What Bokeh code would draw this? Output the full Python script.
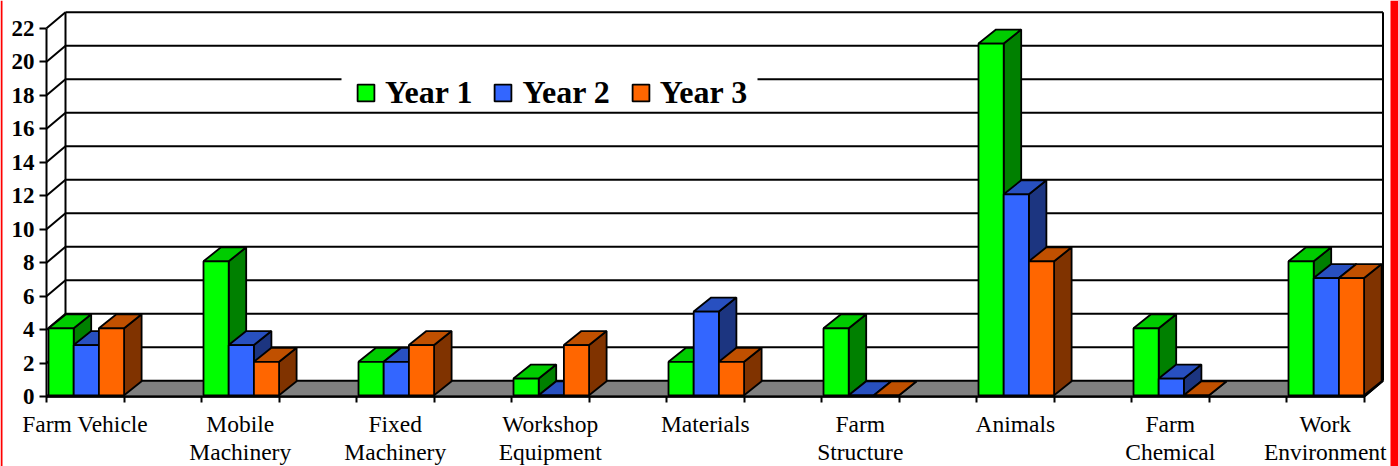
from bokeh.embed import file_html
from bokeh.models import FixedTicker, Legend, LegendItem, LinearAxis, Range1d
from bokeh.plotting import figure
from bokeh.resources import INLINE

categories = [
    ("Farm Vehicle", ""),
    ("Mobile", "Machinery"),
    ("Fixed", "Machinery"),
    ("Workshop", "Equipment"),
    ("Materials", ""),
    ("Farm", "Structure"),
    ("Animals", ""),
    ("Farm", "Chemical"),
    ("Work", "Environment"),
]
year1 = [4, 8, 2, 1, 2, 4, 21, 4, 8]
year2 = [3, 3, 2, 0, 5, 0, 12, 1, 7]
year3 = [4, 2, 3, 3, 2, 0, 8, 0, 7]
y_ticks = list(range(0, 23, 2))

series = [
    ("Year 1", year1, "#00FF00", "#00CC00", "#008000"),
    ("Year 2", year2, "#3366FF", "#2850C0", "#1C3580"),
    ("Year 3", year3, "#FF6600", "#C05000", "#803300"),
]

WIDTH, HEIGHT = 1398, 466
X_ORIGIN, Y_ORIGIN = 46, 396.3
X_SCALE, Y_SCALE = 155.0, 16.75     # pixels per category, pixels per unit

# Oblique projection of the chart's depth axis
DX, DY = 19 / X_SCALE, 16 / Y_SCALE
BAR_W = 25.2 / X_SCALE
INSET_X, INSET_Y = 2 / X_SCALE, 1.5 / Y_SCALE
DEPTH_X, DEPTH_Y = 17.5 / X_SCALE, 14 / Y_SCALE

x_lo = -X_ORIGIN / X_SCALE
x_hi = (WIDTH - X_ORIGIN) / X_SCALE
y_lo = (Y_ORIGIN - HEIGHT) / Y_SCALE
y_hi = Y_ORIGIN / Y_SCALE
x_end = (len(categories) - 1) + 0.5
y_top = y_ticks[-1]

p = figure(
    width=WIDTH, height=HEIGHT, output_backend="svg", toolbar_location=None,
    x_range=Range1d(x_lo, x_hi), y_range=Range1d(y_lo, y_hi),
    x_axis_type=None, y_axis_type=None, min_border=0,
    outline_line_color=None, background_fill_color="white", border_fill_color="white",
)
p.grid.visible = False

# Side bands of the page
p.quad(left=[x_lo], right=[x_lo + 2 / X_SCALE], bottom=[y_lo], top=[y_hi],
       fill_color="#FF0000", line_color=None)
p.quad(left=[x_hi - 8 / X_SCALE], right=[x_hi], bottom=[y_lo], top=[y_hi],
       fill_color="#FF0000", line_color=None)

# Floor
p.patch([0, DX, x_end + DX, x_end], [0, DY, DY, 0], fill_color="#808080",
        line_color="black", line_width=2)

# Gridlines on the back wall and their returns on the side wall
grid_values = [v for v in y_ticks if v > 0]
p.segment(x0=[DX] * len(grid_values), x1=[x_end + DX] * len(grid_values),
          y0=[v + DY for v in grid_values], y1=[v + DY for v in grid_values],
          line_color="black", line_width=2)
p.segment(x0=[0] * len(y_ticks), x1=[DX] * len(y_ticks),
          y0=y_ticks, y1=[v + DY for v in y_ticks], line_color="black", line_width=2)
p.segment(x0=[DX, x_end + DX, x_end], x1=[DX, x_end + DX, x_end + DX],
          y0=[DY, DY, 0], y1=[y_top + DY, y_top + DY, DY],
          line_color="black", line_width=2)

# White panel behind the legend, interrupting the gridline it sits on
p.quad(left=[(341 - X_ORIGIN) / X_SCALE], right=[(757 - X_ORIGIN) / X_SCALE],
       bottom=[(Y_ORIGIN - 106) / Y_SCALE], top=[(Y_ORIGIN - 70) / Y_SCALE],
       fill_color="white", line_color=None)

# Bars, one series at a time so nearer faces cover farther ones
legend_items = []
for idx, (name, values, front, top, side) in enumerate(series):
    lefts = [i + idx * BAR_W + INSET_X for i in range(len(values))]
    rights = [i + (idx + 1) * BAR_W + INSET_X for i in range(len(values))]
    tops = [v + INSET_Y for v in values]
    bases = [INSET_Y] * len(values)

    p.patches(
        [[r, r + DEPTH_X, r + DEPTH_X, r] for r in rights],
        [[b, b + DEPTH_Y, t + DEPTH_Y, t] for b, t in zip(bases, tops)],
        fill_color=side, line_color="black", line_width=1.8,
    )
    p.patches(
        [[l, l + DEPTH_X, r + DEPTH_X, r] for l, r in zip(lefts, rights)],
        [[t, t + DEPTH_Y, t + DEPTH_Y, t] for t in tops],
        fill_color=top, line_color="black", line_width=1.8,
    )
    face = p.quad(left=lefts, right=rights, bottom=bases, top=tops,
                  fill_color=front, line_color="black", line_width=1.8)
    legend_items.append(LegendItem(label=name, renderers=[face]))

# Value axis
y_axis = LinearAxis(
    fixed_location=0, bounds=(0, y_top), ticker=FixedTicker(ticks=y_ticks),
    axis_line_color="black", axis_line_width=2,
    major_tick_line_color="black", major_tick_line_width=2,
    major_tick_in=0, major_tick_out=7, minor_tick_line_color=None,
    major_label_text_font="Liberation Serif", major_label_text_font_style="bold",
    major_label_text_font_size="23px", major_label_text_color="black",
    major_label_standoff=5,
)
p.add_layout(y_axis, "left")

# Category axes: ticks bracket each group, one axis per line of label text
centers = [i + 0.25 for i in range(len(categories))]
edges = [e for i in range(len(categories)) for e in (i, i + 0.5)]

x_axis = LinearAxis(
    fixed_location=0, bounds=(0, x_end),
    ticker=FixedTicker(ticks=centers, minor_ticks=edges),
    major_label_overrides={c: cat[0] for c, cat in zip(centers, categories)},
    axis_line_color="black", axis_line_width=2,
    major_tick_line_color=None, minor_tick_line_color="black", minor_tick_line_width=2,
    minor_tick_in=0, minor_tick_out=6,
    major_label_text_font="Liberation Serif", major_label_text_font_size="23.5px",
    major_label_text_color="black", major_label_standoff=8,
)
p.add_layout(x_axis, "below")

x_axis_second = LinearAxis(
    fixed_location=0, ticker=FixedTicker(ticks=centers),
    major_label_overrides={c: cat[1] for c, cat in zip(centers, categories)},
    axis_line_color=None, major_tick_line_color=None, minor_tick_line_color=None,
    major_label_text_font="Liberation Serif", major_label_text_font_size="23.5px",
    major_label_text_color="black", major_label_standoff=36,
)
p.add_layout(x_axis_second, "below")

legend = Legend(
    items=legend_items, orientation="horizontal", location=(355, 355),
    border_line_color=None, background_fill_alpha=0,
    label_text_font="Liberation Serif", label_text_font_style="bold",
    label_text_font_size="32px", label_text_color="black",
    glyph_width=21, glyph_height=21, spacing=20, padding=0, margin=0,
    label_standoff=9,
)
p.add_layout(legend, "center")

open("out.html", "w").write(file_html(p, INLINE))
